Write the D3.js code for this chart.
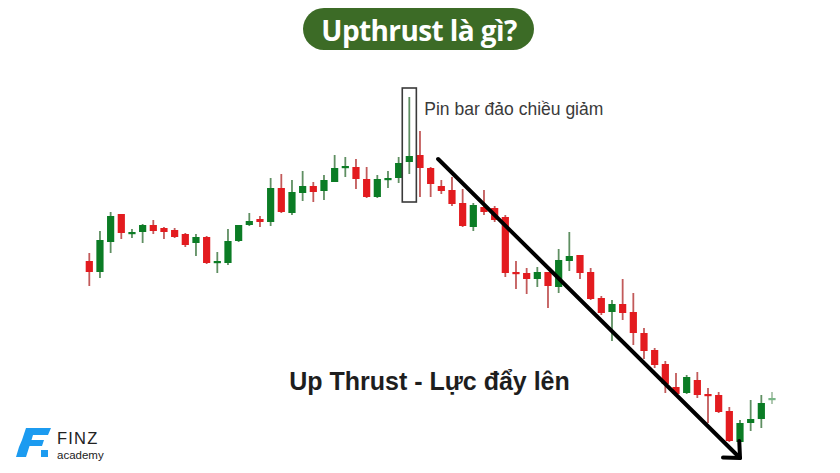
<!DOCTYPE html>
<html>
<head>
<meta charset="utf-8">
<script src="https://cdn.jsdelivr.net/npm/d3@7/dist/d3.min.js"></script>
<style>
  html, body { margin: 0; padding: 0; background: #ffffff; }
  svg { display: block; }
</style>
</head>
<body>
<svg id="chart" width="840" height="473"></svg>
<script>
// ---- data (price units) ----
const openP  = [199,188,218,246,227,228,235,232,230,226,217,223,198,197,219,235,241,238,272,247,267,274,269,278,292,293,281,263,281,282,298,305,292,274,270,257,233,253,252,243,188,187,181,188,173,199,205,188,162,148,156,148,127,110,96,73,67,80,66,65,49,18,37,41,60];
const closeP = [188,220,244,227,228,235,229,228,223,215,223,197,199,219,235,239,238,272,248,268,274,268,280,292,294,281,263,281,282,297,304,292,276,269,256,234,255,248,240,187,186,181,188,174,200,204,187,161,147,156,147,127,109,95,76,66,83,65,64,48,19,37,41,57,62];
const highP  = [207,229,248,246,231,236,240,233,232,227,226,224,208,231,235,247,244,282,286,280,289,278,285,305,303,301,293,285,289,303,363,329,293,280,283,271,257,270,254,245,199,192,193,188,211,228,205,192,164,160,181,167,132,112,99,87,85,88,72,68,53,40,60,65,68];
const lowP   = [174,182,207,221,222,217,226,221,222,213,204,196,187,195,218,234,233,234,247,245,259,258,260,278,283,271,262,262,272,277,286,263,263,266,254,233,229,245,238,183,171,166,173,152,167,189,181,160,145,119,140,115,101,92,67,65,66,62,37,47,18,13,29,32,56];

const titleText = "Upthrust là gì?";
const pinLabel = "Pin bar đảo chiều giảm";
const subTitle = "Up Thrust - Lực đẩy lên";
const pinIndex = 30;
const pinBox = { lo: 258, hi: 372 };
const trendArrow = { from: [32.7, 301], to: [61.0, 2] };

const candles = openP.map((o, i) => ({ i, o, c: closeP[i], h: highP[i], l: lowP[i] }));

// ---- scales ----
const svg = d3.select("#chart");
const x = d3.scaleLinear().domain([0, candles.length - 1]).range([89.3, 772]);
const y = d3.scaleLinear().domain([0, 400]).range([460, 60]);

const RED = "#e31b1f", GREEN = "#0b7c25";
const RED_W = "#c25a5a", GREEN_W = "#5f8f62";
const bodyW = 7.2;

// ---- title pill ----
const pill = svg.append("g");
pill.append("rect").attr("x", 303).attr("y", 8).attr("width", 231).attr("height", 42)
  .attr("rx", 21).attr("fill", "#3c6b26");
pill.append("text").attr("x", 419).attr("y", 40.5).attr("text-anchor", "middle")
  .attr("font-family", "'Open Sans', 'Noto Sans', sans-serif").attr("font-weight", 700)
  .attr("font-size", 28).attr("fill", "#ffffff").attr("letter-spacing", -0.6).text(titleText);

// ---- candles ----
const g = svg.append("g");
const cg = g.selectAll("g.candle").data(candles).join("g").attr("class", "candle")
  .attr("opacity", d => d.i === candles.length - 1 ? 0.55 : 1);
cg.append("line")
  .attr("x1", d => x(d.i)).attr("x2", d => x(d.i))
  .attr("y1", d => y(d.h)).attr("y2", d => y(d.l))
  .attr("stroke", d => d.c >= d.o ? GREEN_W : RED_W).attr("stroke-width", 1.8);
cg.append("rect")
  .attr("x", d => x(d.i) - bodyW / 2).attr("width", bodyW)
  .attr("y", d => y(Math.max(d.o, d.c)))
  .attr("height", d => Math.max(2.2, Math.abs(y(d.o) - y(d.c))))
  .attr("fill", d => d.c >= d.o ? GREEN : RED);

// ---- pin bar box ----
const step = x(1) - x(0);
g.append("rect")
  .attr("x", x(pinIndex) - step * 0.66).attr("width", step * 1.32)
  .attr("y", y(pinBox.hi)).attr("height", y(pinBox.lo) - y(pinBox.hi))
  .attr("fill", "none").attr("stroke", "#3a3a3a").attr("stroke-width", 1.6);
g.append("text").attr("x", x(pinIndex) + 15).attr("y", y(pinBox.hi) + 27)
  .attr("font-family", "'Liberation Sans', Arial, sans-serif").attr("font-size", 17.5)
  .attr("fill", "#3a3a3a").text(pinLabel);

// ---- trend arrow ----
const x1 = x(trendArrow.from[0]), y1 = y(trendArrow.from[1]);
const x2 = x(trendArrow.to[0]), y2 = y(trendArrow.to[1]);
g.append("line").attr("x1", x1).attr("y1", y1).attr("x2", x2).attr("y2", y2)
  .attr("stroke", "#000").attr("stroke-width", 4).attr("stroke-linecap", "round");
const ang = Math.atan2(y2 - y1, x2 - x1);
const hl = 17, ha = Math.PI / 4.2;
const headPts = [
  [x2 - hl * Math.cos(ang - ha), y2 - hl * Math.sin(ang - ha)],
  [x2, y2],
  [x2 - hl * Math.cos(ang + ha), y2 - hl * Math.sin(ang + ha)]
];
g.append("path").attr("d", d3.line()(headPts)).attr("fill", "none")
  .attr("stroke", "#000").attr("stroke-width", 4).attr("stroke-linecap", "round")
  .attr("stroke-linejoin", "round");

// ---- subtitle ----
svg.append("text").attr("x", 429.5).attr("y", 390).attr("text-anchor", "middle")
  .attr("font-family", "'Liberation Sans', Arial, sans-serif").attr("font-weight", 700)
  .attr("font-size", 25).attr("fill", "#1e1e1e").text(subTitle);

// ---- logo ----
const logo = svg.append("g");
logo.append("path")
  .attr("d", "M26,428 L51,428 L48,435 L33,435 L31.5,440 L44,440 L42,446 L29.5,446 L26,457 L16,457 L19,447 L22,440 Z")
  .attr("fill", "#1c9bf0");
logo.append("rect").attr("x", 41).attr("y", 450).attr("width", 7).attr("height", 7).attr("fill", "#1c9bf0");
logo.append("text").attr("x", 57).attr("y", 444).attr("font-family", "'Liberation Sans', Arial, sans-serif")
  .attr("font-size", 16.5).attr("fill", "#222").attr("letter-spacing", 1.2).text("FINZ");
logo.append("text").attr("x", 57).attr("y", 458.5).attr("font-family", "'Liberation Sans', Arial, sans-serif")
  .attr("font-size", 11.5).attr("fill", "#222").text("academy");
</script>
</body>
</html>
